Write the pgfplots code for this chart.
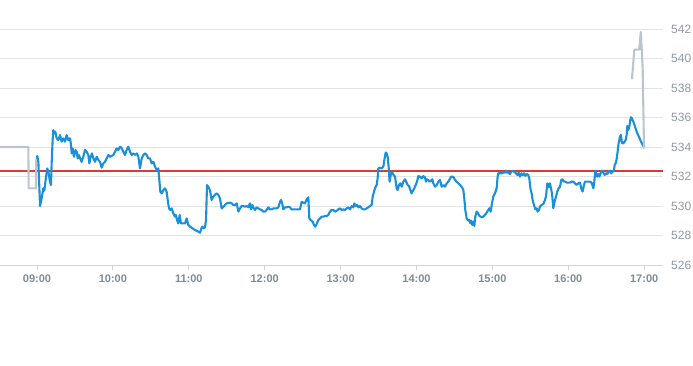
\documentclass[border=0pt]{standalone}
\usepackage{pgfplots}
\pgfplotsset{compat=1.18}
\usepackage{fontspec}
\setmainfont{Liberation Sans}
\definecolor{bluel}{HTML}{1A90DA}
\definecolor{greyl}{HTML}{BAC5CF}
\definecolor{gridc}{HTML}{E2E5E8}
\definecolor{axisc}{HTML}{CCD6E0}
\definecolor{xlab}{HTML}{7F8B97}
\definecolor{ylab}{HTML}{9099A2}
\begin{document}
\begin{tikzpicture}
\useasboundingbox (0,0) rectangle (693pt,365pt);
\begin{axis}[
  at={(0pt,100pt)}, anchor=south west,
  scale only axis, width=663pt, height=265pt,
  xmin=8.5125, xmax=17.248, ymin=526, ymax=543.97,
  axis x line*=bottom, axis y line*=right,
  x axis line style={draw=axisc, line width=0.8pt, -},
  y axis line style={draw=none},
  xtick={9,10,11,12,13,14,15,16,17},
  xticklabels={09:00,10:00,11:00,12:00,13:00,14:00,15:00,16:00,17:00},
  ytick={526,528,530,532,534,536,538,540,542},
  ymajorgrids, grid style={draw=gridc, line width=0.8pt},
  tick align=outside,
  x tick style={draw=axisc, line width=0.8pt},
  major tick length=5pt,
  y tick style={draw=none},
  xticklabel style={font=\fontsize{11}{13}\selectfont\bfseries, text=xlab, yshift=-1pt},
  yticklabel style={font=\fontsize{12}{14}\selectfont, text=ylab, anchor=west, inner sep=0pt, xshift=3pt},
  /pgf/number format/assume math mode=true,
  clip=false,
]
\addplot[draw={rgb,255:red,214;green,60;blue,52}, line width=1.25pt, mark=none] coordinates {(8.5125,532.37) (17.248,532.37)};
\addplot[draw=greyl, line width=2.1pt, line join=round] coordinates {
(8.5125,534.0) (8.886,534.0) (8.890,531.2) (8.987,531.2) (8.991,533.23)
};
\addplot[draw=bluel, line width=2.1pt, line join=round] coordinates {
(8.996,533.23) (9.004,533.39) (9.018,533.0) (9.040,530.0) (9.061,530.52) (9.083,531.2) (9.097,531.04) (9.119,532.0) (9.136,532.55) (9.154,532.21) (9.171,531.65) (9.184,531.42) (9.193,532.89) (9.206,534.47) (9.215,535.15) (9.228,534.93) (9.242,535.04) (9.259,534.59) (9.281,534.47) (9.303,534.81) (9.325,534.36) (9.347,534.59) (9.369,534.36) (9.391,534.81) (9.413,534.47) (9.435,534.59) (9.448,534.14) (9.457,533.57) (9.470,533.91) (9.487,533.34) (9.505,533.80) (9.523,533.68) (9.536,533.23) (9.553,533.46) (9.567,533.23) (9.588,533.0) (9.610,533.34) (9.632,533.80) (9.654,533.68) (9.676,533.46) (9.690,532.89) (9.707,533.34) (9.725,533.57) (9.742,533.23) (9.764,533.0) (9.786,533.34) (9.808,533.12) (9.830,533.0) (9.852,532.6) (9.874,532.89) (9.896,533.0) (9.918,533.23) (9.940,533.46) (9.962,533.34) (10.006,533.46)
(10.028,533.68) (10.050,533.91) (10.072,533.80) (10.094,534.02) (10.116,533.91) (10.138,533.68) (10.160,533.46) (10.181,533.80) (10.203,534.02) (10.225,533.68) (10.247,533.46) (10.269,533.57) (10.291,533.46) (10.313,533.57) (10.335,533.34) (10.357,532.55) (10.379,533.23) (10.401,533.46) (10.423,533.57) (10.445,533.46) (10.467,533.23) (10.489,533.23) (10.511,532.89) (10.533,533.0) (10.555,532.67) (10.577,532.44) (10.599,532.55) (10.612,531.76) (10.625,530.97) (10.643,530.86) (10.665,531.08) (10.687,531.2) (10.708,530.97) (10.722,530.41) (10.739,529.84) (10.757,529.73) (10.774,529.84) (10.796,529.50) (10.818,529.28) (10.831,529.39) (10.845,529.05) (10.862,528.82) (10.880,529.39) (10.897,528.82) (10.928,528.82) (10.950,528.82) (10.972,529.16) (10.994,528.71) (11.016,528.60) (11.047,528.49) (11.082,528.37) (11.126,528.26) (11.148,528.19) (11.161,528.42) (11.178,528.60) (11.196,528.49) (11.213,528.55) (11.227,529.05) (11.240,531.42) (11.257,531.31) (11.279,531.08) (11.301,530.41) (11.323,530.63) (11.345,530.75) (11.367,530.86) (11.389,530.75) (11.411,530.52) (11.433,529.84) (11.455,529.95) (11.477,530.07) (11.499,530.18) (11.543,530.23)
(11.565,530.18) (11.587,530.07) (11.609,530.07) (11.631,530.18) (11.653,529.62) (11.675,529.84) (11.697,530.0) (11.719,530.0) (11.740,529.95) (11.762,530.0) (11.784,529.91) (11.806,530.18) (11.820,529.77) (11.837,530.07) (11.850,529.91) (11.872,529.73) (11.894,529.91) (11.916,529.84) (11.938,529.77) (11.960,529.73) (11.982,529.62) (12.004,529.62) (12.026,529.73) (12.048,529.91) (12.070,529.77) (12.092,529.77) (12.114,529.84) (12.136,529.84) (12.158,529.84) (12.180,529.91) (12.202,530.29) (12.215,530.41) (12.228,530.23) (12.246,529.77) (12.268,529.91) (12.289,529.91) (12.311,529.95) (12.333,529.91) (12.355,529.77) (12.377,529.77) (12.421,529.77) (12.465,529.77) (12.487,530.29) (12.509,530.23) (12.531,530.18) (12.553,530.45) (12.575,530.59) (12.588,529.16) (12.606,529.05) (12.632,528.94) (12.650,528.71) (12.667,528.60) (12.685,528.78) (12.707,529.05) (12.729,529.16) (12.751,529.28) (12.773,529.28) (12.795,529.32) (12.816,529.32) (12.838,529.39) (12.860,529.62) (12.882,529.73) (12.904,529.73) (12.926,529.62) (12.948,529.68) (12.970,529.77) (12.992,529.84) (13.014,529.73) (13.036,529.77)
(13.058,529.73) (13.080,529.84) (13.102,529.91) (13.124,529.77) (13.146,530.0) (13.168,529.91) (13.181,530.18) (13.199,530.0) (13.216,530.07) (13.234,529.91) (13.256,530.0) (13.278,529.84) (13.300,529.77) (13.322,529.77) (13.343,529.84) (13.365,529.91) (13.387,530.0) (13.409,530.07) (13.423,530.63) (13.440,530.97) (13.453,531.2) (13.475,531.42) (13.488,531.88) (13.497,532.55) (13.519,532.60) (13.541,532.55) (13.563,532.67) (13.576,533.12) (13.594,533.62) (13.607,533.57) (13.620,533.34) (13.633,532.67) (13.646,531.65) (13.664,532.21) (13.682,532.26) (13.699,532.10) (13.717,531.99) (13.739,531.20) (13.752,531.08) (13.769,531.42) (13.787,531.54) (13.805,531.31) (13.827,531.65) (13.849,531.81) (13.870,531.58) (13.884,531.42) (13.901,531.36) (13.919,531.08) (13.936,530.86) (13.958,531.08) (13.971,531.20) (13.989,531.42) (14.007,531.65) (14.024,532.03) (14.046,531.99) (14.068,531.88) (14.090,532.03) (14.112,531.94) (14.125,531.65) (14.138,531.81) (14.156,531.76) (14.174,531.65) (14.191,531.72) (14.209,531.81) (14.222,531.54) (14.244,531.31) (14.266,531.42) (14.288,531.65) (14.310,531.76) (14.332,531.31) (14.354,531.42) (14.376,531.31) (14.398,531.54) (14.419,531.65) (14.437,531.81) (14.455,531.99) (14.472,531.99) (14.490,531.94) (14.507,531.76) (14.529,531.65) (14.551,531.54)
(14.573,531.43) (14.595,531.31) (14.617,531.09) (14.630,530.52) (14.643,529.73) (14.661,529.17) (14.678,529.01) (14.696,529.05) (14.709,528.83) (14.722,529.01) (14.735,528.72) (14.749,528.94) (14.762,528.65) (14.775,529.28) (14.793,529.62) (14.810,529.51) (14.828,529.33) (14.845,529.28) (14.863,529.24) (14.880,529.28) (14.902,529.39) (14.924,529.55) (14.946,529.73) (14.959,529.85) (14.977,529.62) (14.995,530.18) (15.012,530.64) (15.034,530.86) (15.056,531.20) (15.069,531.99) (15.078,532.22) (15.100,532.22) (15.122,532.22) (15.144,532.26) (15.166,532.26) (15.179,532.40) (15.197,532.26) (15.214,532.26) (15.232,532.17) (15.249,532.33) (15.267,532.40) (15.284,532.33) (15.302,532.26) (15.320,532.17) (15.333,532.10) (15.346,532.26) (15.364,531.99) (15.381,532.22) (15.399,532.10) (15.416,532.22) (15.434,532.04) (15.451,532.17) (15.473,532.10) (15.486,531.88) (15.504,531.09) (15.517,530.86) (15.530,530.41) (15.548,530.07) (15.566,529.78) (15.583,529.85) (15.596,529.62) (15.614,529.73) (15.627,529.96) (15.649,530.07) (15.671,530.14) (15.693,530.41) (15.706,530.64) (15.724,531.54) (15.741,531.27) (15.759,531.54) (15.772,531.20) (15.785,530.86) (15.803,529.85) (15.820,530.30) (15.838,530.64) (15.855,530.98) (15.873,531.20) (15.891,531.31) (15.908,531.77) (15.926,531.81) (15.943,531.65) (15.961,531.65) (15.978,531.59) (16.000,531.59)
(16.022,531.59) (16.044,531.65) (16.066,531.65) (16.088,531.54) (16.110,531.43) (16.132,531.54) (16.154,531.59) (16.176,531.09) (16.189,530.98) (16.207,531.43) (16.220,531.65) (16.242,531.65) (16.264,531.65) (16.286,531.65) (16.308,531.59) (16.330,531.20) (16.343,531.65) (16.356,532.40) (16.369,532.11) (16.382,531.99) (16.396,532.17) (16.409,531.99) (16.426,532.22) (16.444,532.40) (16.461,532.26) (16.479,532.11) (16.497,532.22) (16.514,532.17) (16.532,532.33) (16.549,532.40) (16.567,532.22) (16.584,532.33) (16.602,532.44) (16.611,532.78) (16.624,532.90) (16.637,533.17) (16.650,533.69) (16.663,534.25) (16.681,534.70) (16.694,534.82) (16.707,534.25) (16.725,534.25) (16.743,534.37) (16.756,534.48) (16.769,534.82) (16.778,535.43) (16.791,535.16) (16.804,535.38) (16.817,535.83) (16.826,536.02) (16.839,535.95) (16.857,535.72) (16.879,535.38) (16.901,535.04) (16.945,534.52) (16.980,534.14) (17.002,533.98)
};
\addplot[draw=greyl, line width=2.1pt, line join=round] coordinates {
(16.839,538.6) (16.870,540.6) (16.935,540.6) (16.955,541.8) (16.968,540.6) (16.980,539.3) (16.998,533.9)
};
\end{axis}
\end{tikzpicture}
\end{document}
